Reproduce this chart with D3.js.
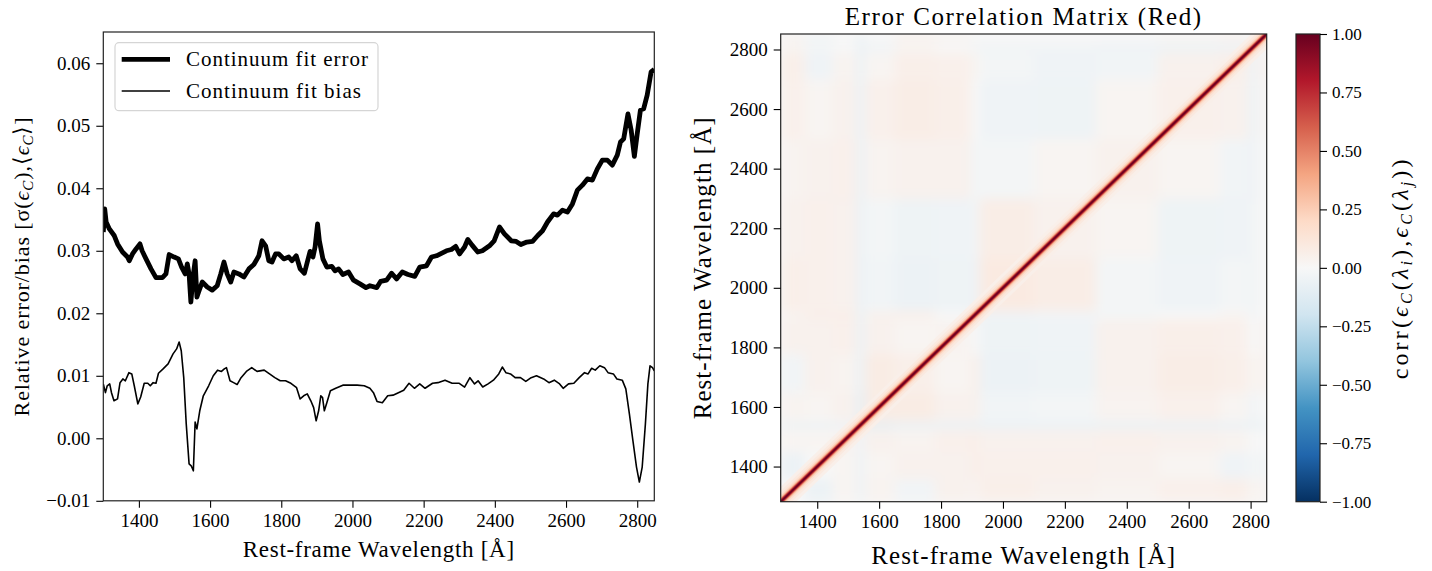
<!DOCTYPE html>
<html><head><meta charset="utf-8">
<script src="https://cdn.jsdelivr.net/npm/d3@7"></script>
<style>
body{margin:0;background:#fff;}
text{font-family:"Liberation Serif","Times New Roman",serif;fill:#000;}
</style></head><body>
<svg id="c" width="1432" height="571"></svg>
<script>
// ---------------- data ----------------
const errWave = [1300,1304,1308,1317,1331,1340,1354,1368,1373,1382,1392,1403,1409,1420,1434,1448,1466,1476,1485,1499,1511,1520,1530,1536,1541,1546,1552,1558,1563,1569,1578,1592,1606,1620,1630,1639,1648,1658,1667,1681,1695,1709,1723,1737,1746,1756,1765,1774,1784,1793,1807,1821,1830,1842,1853,1865,1874,1881,1889,1895,1902,1907,1917,1928,1942,1951,1961,1973,1989,2003,2021,2038,2049,2068,2079,2096,2110,2124,2140,2156,2175,2189,2208,2222,2236,2250,2264,2278,2290,2301,2315,2324,2336,2352,2365,2385,2398,2413,2427,2446,2460,2473,2490,2506,2520,2534,2548,2565,2576,2590,2604,2618,2632,2646,2660,2674,2688,2702,2716,2730,2744,2753,2762,2774,2783,2792,2800,2809,2818,2828,2839,2848];
const errVal = [0.0330,0.0367,0.0346,0.0335,0.0324,0.0311,0.0298,0.0290,0.0284,0.0295,0.0303,0.0311,0.0300,0.0287,0.0271,0.0257,0.0257,0.0263,0.0294,0.0290,0.0287,0.0274,0.0263,0.0279,0.0263,0.0218,0.0258,0.0284,0.0226,0.0236,0.0250,0.0242,0.0237,0.0244,0.0263,0.0282,0.0263,0.0250,0.0266,0.0263,0.0258,0.0271,0.0278,0.0292,0.0316,0.0308,0.0284,0.0282,0.0295,0.0295,0.0287,0.0290,0.0284,0.0292,0.0271,0.0264,0.0284,0.0299,0.0290,0.0306,0.0343,0.0316,0.0287,0.0274,0.0275,0.0268,0.0271,0.0262,0.0266,0.0253,0.0247,0.0241,0.0244,0.0241,0.0251,0.0253,0.0264,0.0255,0.0266,0.0262,0.0259,0.0274,0.0276,0.0290,0.0292,0.0296,0.0300,0.0302,0.0307,0.0295,0.0306,0.0318,0.0309,0.0298,0.0300,0.0308,0.0316,0.0338,0.0327,0.0316,0.0315,0.0310,0.0314,0.0315,0.0324,0.0332,0.0346,0.0359,0.0357,0.0365,0.0362,0.0375,0.0397,0.0405,0.0415,0.0413,0.0431,0.0445,0.0445,0.0437,0.0453,0.0474,0.0479,0.0519,0.0493,0.0451,0.0487,0.0525,0.0527,0.0549,0.0586,0.0590];

const biasWave = [1300,1306,1311,1318,1323,1330,1340,1347,1355,1362,1372,1380,1387,1397,1405,1415,1425,1432,1440,1448,1455,1468,1482,1496,1506,1513,1519,1526,1533,1541,1547,1553,1558,1563,1571,1581,1596,1609,1621,1632,1640,1646,1656,1666,1676,1687,1702,1717,1732,1752,1767,1782,1797,1812,1827,1843,1853,1863,1873,1883,1891,1898,1905,1911,1916,1921,1928,1938,1953,1973,1993,2013,2033,2049,2059,2069,2084,2099,2114,2129,2144,2159,2174,2189,2204,2225,2240,2260,2280,2300,2315,2330,2343,2353,2366,2381,2396,2411,2421,2431,2444,2457,2472,2487,2502,2517,2537,2552,2567,2582,2592,2607,2622,2637,2652,2662,2672,2682,2695,2708,2718,2733,2743,2758,2768,2778,2788,2798,2806,2814,2823,2830,2836,2843,2848];
const biasVal = [0.0087,0.0073,0.0084,0.0087,0.0073,0.0060,0.0063,0.0089,0.0095,0.0092,0.0105,0.0103,0.0084,0.0055,0.0066,0.0088,0.0088,0.0084,0.0089,0.0088,0.0104,0.0111,0.0119,0.0135,0.0143,0.0154,0.0140,0.0097,0.0023,-0.0041,-0.0044,-0.0052,0.0026,0.0015,0.0044,0.0068,0.0084,0.0100,0.0109,0.0107,0.0111,0.0113,0.0092,0.0089,0.0086,0.0097,0.0107,0.0113,0.0107,0.0109,0.0103,0.0097,0.0092,0.0092,0.0088,0.0081,0.0063,0.0068,0.0071,0.0060,0.0049,0.0028,0.0044,0.0068,0.0065,0.0044,0.0057,0.0076,0.0080,0.0085,0.0085,0.0085,0.0084,0.0080,0.0073,0.0059,0.0057,0.0068,0.0069,0.0073,0.0077,0.0088,0.0080,0.0087,0.0080,0.0088,0.0089,0.0093,0.0088,0.0088,0.0082,0.0097,0.0087,0.0092,0.0082,0.0087,0.0093,0.0103,0.0114,0.0105,0.0103,0.0097,0.0097,0.0091,0.0097,0.0100,0.0095,0.0089,0.0093,0.0087,0.0080,0.0087,0.0088,0.0097,0.0105,0.0103,0.0112,0.0109,0.0116,0.0113,0.0105,0.0103,0.0095,0.0093,0.0079,0.0039,-0.0004,-0.0046,-0.0070,-0.0046,0.0023,0.0087,0.0116,0.0113,0.0108];

const seriesNames = ["Continuum fit error", "Continuum fit bias"];
const xTicks = [1400,1600,1800,2000,2200,2400,2600,2800];
const yTicksLeft = [-0.01,0.00,0.01,0.02,0.03,0.04,0.05,0.06];
const heatTicks = [1400,1600,1800,2000,2200,2400,2600,2800];
const cbTicks = [-1.00,-0.75,-0.50,-0.25,0.00,0.25,0.50,0.75,1.00];

// correlation matrix: coarse wavelength blocks (symmetric, upper triangle rows)
const binEdges = [1282,1360,1450,1525,1555,1650,1780,1895,1925,2100,2300,2500,2700,2790,2825,2852];
const blockCorr = [
 [0.00,-0.06,0.02,-0.05,0.03,-0.03,0.04,0.03,0.06,0.04,0.03,0.05,0.06,0.02,0.03],
 [0.00,0.02,-0.05,0.02,0.04,0.04,0.06,0.05,0.05,0.04,0.02,-0.04,-0.02,-0.03],
 [0.03,-0.04,0.04,0.03,0.05,0.06,0.04,0.04,0.05,0.04,0.03,0.00,0.00],
 [0.10,-0.08,-0.06,-0.06,-0.06,-0.06,-0.06,-0.06,-0.06,-0.06,-0.06,-0.06],
 [0.08,0.08,0.04,0.04,-0.03,-0.02,0.03,0.05,0.02,-0.03,0.00],
 [0.06,0.02,0.05,-0.06,-0.05,0.04,0.07,0.06,0.02,0.04],
 [0.03,0.00,-0.05,-0.04,0.04,0.06,0.05,0.00,0.03],
 [0.10,-0.04,-0.03,-0.02,0.00,0.02,-0.02,0.00],
 [0.09,0.07,-0.02,-0.04,-0.02,-0.03,0.00],
 [0.04,0.02,-0.05,-0.04,-0.03,0.00],
 [0.04,0.02,-0.03,-0.04,0.00],
 [0.05,0.04,-0.05,0.02],
 [0.06,-0.04,0.04],
 [0.05,-0.03],
 [0.05]
];
// correlation near the diagonal: half-width of band (Angstrom) and its correlation
const diagHalfWidth = [50,36,26,19,14,10.5,8,5.5,3.5,1.5];
const diagCorr = [0.06,0.10,0.16,0.25,0.38,0.55,0.72,0.86,0.95,1.00];

const rdbuColors = ['#053061','#2166ac','#4393c3','#92c5de','#d1e5f0','#f7f7f7','#fddbc7','#f4a582','#d6604d','#b2182b','#67001f'];

// ---------------- drawing ----------------
const svg = d3.select('#c');
const defs = svg.append('defs');

function fit(t, target){
  const n = t.text().length;
  const L = t.node().getComputedTextLength();
  t.attr('letter-spacing', ((target - L) / n).toFixed(3));
}
function styleAxis(g, size){
  g.select('.domain').remove();
  g.selectAll('.tick line').attr('stroke','#000').attr('stroke-width',1.1);
  g.selectAll('.tick text').attr('font-family','"Liberation Serif",serif').attr('font-size',size).attr('fill','#000');
}

// ===== Left panel =====
const L = {x0:103.3, x1:654.3, y0:32, y1:500.8};
const xL = d3.scaleLinear().domain([1300, 2848]).range([L.x0, L.x1]);
const yL = d3.scaleLinear().domain([-0.01, 0.065]).range([L.y1, L.y0]);

defs.append('clipPath').attr('id','clipL').append('rect')
  .attr('x',L.x0).attr('y',L.y0).attr('width',L.x1-L.x0).attr('height',L.y1-L.y0);

const fmt2 = d3.format('.2f');
svg.append('g').attr('transform',`translate(0,${L.y1})`)
  .call(d3.axisBottom(xL).tickValues(xTicks).tickSize(7).tickPadding(6).tickFormat(d3.format('d')))
  .call(g=>styleAxis(g,19));
svg.append('g').attr('transform',`translate(${L.x0},0)`)
  .call(d3.axisLeft(yL).tickValues(yTicksLeft).tickSize(7).tickPadding(6).tickFormat(fmt2))
  .call(g=>styleAxis(g,19));

const lineGen = (xs, ys) => d3.line().x((d,i)=>xL(xs[i])).y((d,i)=>yL(ys[i]));
const pl = svg.append('g').attr('clip-path','url(#clipL)');
pl.append('path').attr('d', lineGen(errWave, errVal)(errWave))
  .attr('fill','none').attr('stroke','#000').attr('stroke-width',4.8)
  .attr('stroke-linejoin','round').attr('stroke-linecap','butt');
pl.append('path').attr('d', lineGen(biasWave, biasVal)(biasWave))
  .attr('fill','none').attr('stroke','#000').attr('stroke-width',1.6)
  .attr('stroke-linejoin','round');

svg.append('rect').attr('x',L.x0).attr('y',L.y0).attr('width',L.x1-L.x0).attr('height',L.y1-L.y0)
  .attr('fill','none').attr('stroke','#222').attr('stroke-width',1.2);

// legend
const lg = svg.append('g');
lg.append('rect').attr('x',115).attr('y',42.7).attr('width',263).attr('height',68).attr('rx',4)
  .attr('fill','#fff').attr('fill-opacity',0.8).attr('stroke','#d5d5d5').attr('stroke-width',1.2);
[[59.3,4.8],[91,1.6]].forEach((p,i)=>{
  lg.append('line').attr('x1',121.7).attr('x2',170).attr('y1',p[0]).attr('y2',p[0])
    .attr('stroke','#000').attr('stroke-width',p[1]);
  const t = lg.append('text').attr('x',186).attr('y',p[0]+7).attr('font-size',21).text(seriesNames[i]);
  fit(t, i===0?183:176);
});

// axis labels
const xlabL = svg.append('text').attr('x',(L.x0+L.x1)/2).attr('y',557).attr('text-anchor','middle')
  .attr('font-size',23).text('Rest-frame Wavelength [Å]');
fit(xlabL, 272);
const ylabL = svg.append('text').attr('transform',`translate(29,${(L.y0+L.y1)/2}) rotate(-90)`)
  .attr('text-anchor','middle').attr('font-size',22);
ylabL.append('tspan').text('Relative error/bias [σ(');
ylabL.append('tspan').attr('font-style','italic').text('ϵ');
ylabL.append('tspan').attr('font-style','italic').attr('font-size',15).attr('dy',4).text('C');
ylabL.append('tspan').attr('dy',-4).text('),⟨');
ylabL.append('tspan').attr('font-style','italic').text('ϵ');
ylabL.append('tspan').attr('font-style','italic').attr('font-size',15).attr('dy',4).text('C');
ylabL.append('tspan').attr('dy',-4).text('⟩]');
fit(ylabL, 300);

// ===== Right panel: heatmap =====
const H = {x0:780.7, x1:1266.7, y0:34, y1:501.7};
const xH = d3.scaleLinear().domain([1282, 2852]).range([H.x0, H.x1]);
const yH = d3.scaleLinear().domain([1282, 2852]).range([H.y1, H.y0]);
const color = d3.scaleLinear().domain(d3.range(11).map(i=>-1+i*0.2)).range(rdbuColors).interpolate(d3.interpolateRgb).clamp(true);

defs.append('clipPath').attr('id','clipH').append('rect')
  .attr('x',H.x0).attr('y',H.y0).attr('width',H.x1-H.x0).attr('height',H.y1-H.y0);
const blur = defs.append('filter').attr('id','soft').attr('x','-5%').attr('y','-5%').attr('width','110%').attr('height','110%');
blur.append('feGaussianBlur').attr('stdDeviation',6).attr('edgeMode','duplicate');

const cells = [];
const nb = binEdges.length-1;
for (let i=0;i<nb;i++) for (let j=0;j<nb;j++){
  const a = Math.min(i,j), b = Math.max(i,j);
  cells.push({i, j, v: blockCorr[a][b-a]});
}
const hg = svg.append('g').attr('clip-path','url(#clipH)');
hg.append('rect').attr('x',H.x0).attr('y',H.y0).attr('width',H.x1-H.x0).attr('height',H.y1-H.y0).attr('fill',color(0));
hg.append('g').attr('filter','url(#soft)').selectAll('rect').data(cells).join('rect')
  .attr('x',d=>xH(binEdges[d.i])).attr('width',d=>xH(binEdges[d.i+1])-xH(binEdges[d.i])+0.5)
  .attr('y',d=>yH(binEdges[d.j+1])).attr('height',d=>yH(binEdges[d.j])-yH(binEdges[d.j+1])+0.5)
  .attr('fill',d=>color(d.v));

const lo = 1282, hi = 2852;
const bandPts = w => [[lo,lo],[lo,lo+w],[hi-w,hi],[hi,hi],[hi,hi-w],[lo+w,lo]]
  .map(p=>[xH(p[0]), yH(p[1])]);
hg.append('g').selectAll('polygon').data(diagHalfWidth.map((w,k)=>({w, v:diagCorr[k]}))).join('polygon')
  .attr('points',d=>bandPts(d.w).map(p=>p.join(',')).join(' '))
  .attr('fill',d=>color(d.v));

svg.append('rect').attr('x',H.x0).attr('y',H.y0).attr('width',H.x1-H.x0).attr('height',H.y1-H.y0)
  .attr('fill','none').attr('stroke','#222').attr('stroke-width',1.2);

svg.append('g').attr('transform',`translate(0,${H.y1})`)
  .call(d3.axisBottom(xH).tickValues(heatTicks).tickSize(7).tickPadding(6).tickFormat(d3.format('d')))
  .call(g=>styleAxis(g,19));
svg.append('g').attr('transform',`translate(${H.x0},0)`)
  .call(d3.axisLeft(yH).tickValues(heatTicks).tickSize(7).tickPadding(6).tickFormat(d3.format('d')))
  .call(g=>styleAxis(g,19));

const title = svg.append('text').attr('x',(H.x0+H.x1)/2).attr('y',25).attr('text-anchor','middle')
  .attr('font-size',25).text('Error Correlation Matrix (Red)');
fit(title, 358);
const xlabH = svg.append('text').attr('x',(H.x0+H.x1)/2).attr('y',564).attr('text-anchor','middle')
  .attr('font-size',25).text('Rest-frame Wavelength [Å]');
fit(xlabH, 305);
const ylabH = svg.append('text').attr('transform',`translate(711,${(H.y0+H.y1)/2}) rotate(-90)`)
  .attr('text-anchor','middle').attr('font-size',25).text('Rest-frame Wavelength [Å]');
fit(ylabH, 303);

// ===== colorbar =====
const C = {x0:1296, x1:1320, y0:34, y1:501.7};
const yC = d3.scaleLinear().domain([-1,1]).range([C.y1, C.y0]);
const grad = defs.append('linearGradient').attr('id','cbg').attr('x1',0).attr('y1',1).attr('x2',0).attr('y2',0);
rdbuColors.forEach((c,i)=>grad.append('stop').attr('offset',i/10).attr('stop-color',c));
svg.append('rect').attr('x',C.x0).attr('y',C.y0).attr('width',C.x1-C.x0).attr('height',C.y1-C.y0)
  .attr('fill','url(#cbg)').attr('stroke','#222').attr('stroke-width',1.2);
svg.append('g').attr('transform',`translate(${C.x1},0)`)
  .call(d3.axisRight(yC).tickValues(cbTicks).tickSize(7).tickPadding(5).tickFormat(fmt2))
  .call(g=>styleAxis(g,17));

const cbl = svg.append('text').attr('transform',`translate(1408,${(C.y0+C.y1)/2}) rotate(-90)`)
  .attr('text-anchor','middle').attr('font-size',24);
cbl.append('tspan').text('corr(');
cbl.append('tspan').attr('font-style','italic').text('ϵ');
cbl.append('tspan').attr('font-style','italic').attr('font-size',16).attr('dy',4).text('C');
cbl.append('tspan').attr('dy',-4).text('(');
cbl.append('tspan').attr('font-style','italic').text('λ');
cbl.append('tspan').attr('font-style','italic').attr('font-size',16).attr('dy',4).text('i');
cbl.append('tspan').attr('dy',-4).text('),');
cbl.append('tspan').attr('font-style','italic').text('ϵ');
cbl.append('tspan').attr('font-style','italic').attr('font-size',16).attr('dy',4).text('C');
cbl.append('tspan').attr('dy',-4).text('(');
cbl.append('tspan').attr('font-style','italic').text('λ');
cbl.append('tspan').attr('font-style','italic').attr('font-size',16).attr('dy',4).text('j');
cbl.append('tspan').attr('dy',-4).text('))');
fit(cbl, 223);
</script>
</body></html>
